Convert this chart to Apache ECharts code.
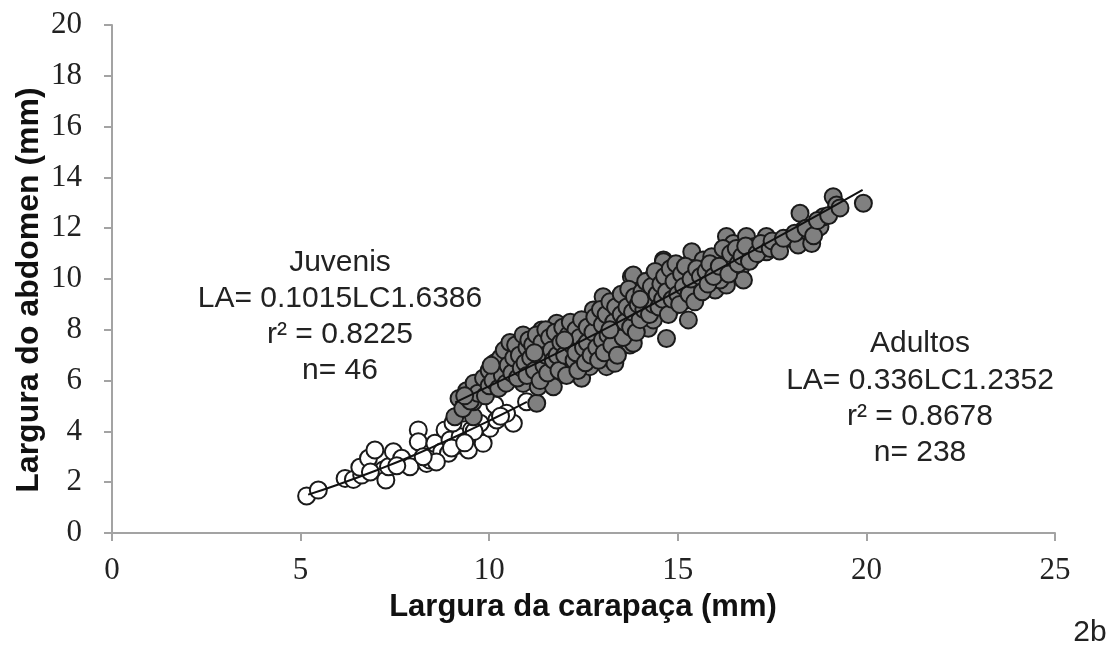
<!DOCTYPE html>
<html>
<head>
<meta charset="utf-8">
<script src="https://cdn.jsdelivr.net/npm/echarts@6/dist/echarts.min.js"></script>
<style>
    html, body { margin: 0; padding: 0; background: #fff; }
    #chart { width: 1114px; height: 648px; }
</style>
</head>
<body>
<div id="chart"></div>
<script>
    // juvenis (open circles)
    var juvenilePoints = [
        [5.16, 1.46], [5.47, 1.69], [6.18, 2.15], [6.40, 2.11], [6.62, 2.28], [6.57, 2.59],
        [6.80, 2.94], [6.97, 3.27], [7.19, 2.48], [7.26, 2.09], [7.33, 2.61], [7.46, 3.20],
        [7.68, 2.94], [7.90, 2.61], [8.12, 4.06], [8.12, 3.59], [8.34, 2.74], [8.43, 2.87],
        [8.52, 3.07], [8.56, 3.53], [8.74, 3.20], [8.92, 3.14], [8.83, 4.06], [8.96, 3.66],
        [9.18, 3.46], [9.23, 3.79], [9.45, 3.27], [9.53, 4.06], [9.84, 3.53], [10.02, 4.12],
        [10.15, 5.04], [10.20, 4.45], [10.64, 4.32], [10.46, 4.71], [10.99, 5.17], [9.76, 4.32],
        [9.04, 4.33], [9.31, 4.72], [8.6, 2.8], [7.55, 2.65], [9.0, 3.35], [9.6, 4.0],
        [10.3, 4.6], [8.25, 3.0], [9.35, 3.55], [6.85, 2.4]
    ]

    // adultos (grey circles)
    var adultPoints = [
        [9.09, 4.58], [9.58, 4.58], [9.58, 5.17], [9.80, 5.76], [10.20, 6.29], [10.46, 6.55],
        [10.59, 7.14], [10.90, 5.89], [10.95, 7.60], [11.26, 5.11], [11.30, 5.76], [11.39, 7.99],
        [11.35, 6.81], [11.79, 8.26], [11.70, 5.76], [11.96, 7.73], [12.01, 6.55], [12.14, 7.20],
        [12.41, 6.94], [12.45, 6.09], [12.67, 6.55], [12.76, 8.78], [13.02, 9.30], [12.94, 8.12],
        [13.11, 6.55], [13.33, 6.68], [13.38, 7.47], [13.73, 7.40], [13.77, 7.86], [13.64, 9.17],
        [13.77, 10.09], [14.17, 8.52], [14.22, 8.06], [14.09, 9.89], [14.53, 10.22], [14.70, 7.66],
        [14.79, 8.78], [14.62, 10.75], [14.88, 9.57], [15.28, 8.39], [15.41, 9.83], [15.32, 10.62],
        [15.50, 9.96], [15.99, 9.57], [16.21, 9.96], [16.12, 10.81], [16.03, 10.29],
        [13.82, 10.16], [14.62, 10.68], [13.82, 7.47], [15.37, 11.07], [15.54, 9.76], [15.23, 9.17],
        [16.29, 11.67], [16.29, 9.76], [16.47, 11.40], [16.65, 10.35], [16.82, 11.67], [17.00, 11.27],
        [17.05, 10.94], [17.35, 11.67], [17.35, 11.07], [17.62, 11.27], [17.93, 11.60], [18.24, 12.59],
        [18.19, 11.34], [18.33, 11.93], [18.55, 11.40], [18.77, 12.06], [18.86, 12.45], [19.12, 13.24],
        [19.21, 12.91], [19.92, 12.98], [15.99, 10.42], [15.67, 10.75], [15.90, 10.88], [16.12, 9.96],
        [16.52, 10.75], [16.74, 9.96], [14.35, 10.09], [14.53, 9.57], [14.17, 9.17], [13.99, 8.65],
        [14.35, 8.39], [15.06, 9.96],
        [9.2, 5.3], [9.3, 4.9], [9.4, 5.6], [9.5, 5.2], [9.6, 5.9], [9.7, 5.5], [9.85, 6.1], [9.9, 5.4],
        [10.0, 6.4], [10.0, 5.8], [10.1, 6.0], [10.15, 6.7], [10.25, 5.7], [10.3, 6.9], [10.35, 6.2],
        [10.4, 7.2], [10.45, 5.9], [10.5, 6.6], [10.55, 7.5], [10.6, 6.3], [10.65, 6.9], [10.7, 7.4],
        [10.75, 6.1], [10.8, 7.0], [10.85, 6.5], [10.9, 7.8], [10.95, 6.7], [11.0, 7.3], [11.0, 6.2],
        [11.05, 7.6], [11.1, 6.9], [11.15, 7.4], [11.2, 6.4], [11.25, 7.8], [11.3, 7.1], [11.35, 6.0],
        [11.4, 7.5], [11.45, 6.6], [11.5, 8.0], [11.5, 7.0], [11.55, 6.3], [11.6, 7.7], [11.65, 7.2],
        [11.7, 6.8], [11.75, 7.9], [11.8, 7.0], [11.85, 6.4], [11.9, 7.5], [11.95, 8.1], [12.0, 7.0],
        [12.05, 6.2], [12.1, 7.8], [12.15, 8.3], [12.2, 7.4], [12.25, 6.8], [12.3, 8.0], [12.3, 7.1],
        [12.35, 6.4], [12.4, 7.7], [12.45, 8.4], [12.5, 7.3], [12.55, 6.7], [12.6, 8.1], [12.6, 7.5],
        [12.7, 7.0], [12.75, 7.9], [12.8, 8.5], [12.85, 7.3], [12.9, 6.8], [12.95, 8.8], [13.0, 7.6],
        [13.0, 8.2], [13.05, 7.1], [13.1, 8.6], [13.15, 7.8], [13.2, 9.1], [13.25, 7.4], [13.3, 8.3],
        [13.35, 8.9], [13.4, 7.0], [13.45, 8.0], [13.5, 8.6], [13.5, 9.4], [13.55, 7.7], [13.6, 8.3],
        [13.65, 8.9], [13.7, 9.6], [13.75, 8.1], [13.8, 8.7], [13.85, 9.3], [13.9, 7.9], [13.95, 9.0],
        [14.0, 8.4], [14.05, 9.5], [14.1, 8.8], [14.15, 9.9], [14.2, 9.2], [14.25, 8.6], [14.3, 9.7],
        [14.35, 9.0], [14.4, 10.3], [14.45, 9.4], [14.5, 8.9], [14.55, 9.8], [14.6, 9.2], [14.65, 10.1],
        [14.7, 9.5], [14.75, 8.6], [14.8, 10.4], [14.85, 9.2], [14.9, 9.9], [14.95, 10.6], [15.0, 9.4],
        [15.05, 9.0], [15.1, 10.2], [15.15, 9.7], [15.2, 10.5], [15.3, 9.4], [15.35, 10.0], [15.45, 9.1],
        [15.5, 10.4], [15.6, 10.1], [15.65, 9.5], [15.75, 10.3], [15.8, 9.8], [15.85, 10.6], [15.95, 10.1],
        [16.1, 10.5], [16.2, 11.2], [16.35, 10.2], [16.4, 11.0], [16.55, 11.2], [16.6, 10.6], [16.7, 10.9],
        [16.8, 11.3], [16.9, 10.7], [17.1, 11.0], [17.2, 11.4], [17.45, 11.2], [17.5, 11.5], [17.7, 11.1],
        [17.8, 11.6], [18.1, 11.8], [18.4, 12.0], [18.6, 11.7], [18.7, 12.3], [19.0, 12.5], [19.3, 12.8],
        [9.35, 5.4], [10.05, 6.6], [11.2, 7.1], [12.0, 7.6], [13.2, 8.0], [14.0, 9.2]
    ]

    // linhas de tendencia
    var juvenileFit = [[5.2, 1.51], [6, 1.91], [7, 2.46], [8, 3.06], [9, 3.72], [10, 4.42], [11, 5.16]]
    var adultFit = [[9.1, 5.14], [10, 5.78], [12, 7.23], [14, 8.75], [16, 10.32], [18, 11.93], [19.9, 13.51]]

    var juvenileText = ['Juvenis', 'LA= 0.1015LC1.6386', 'r² = 0.8225', 'n= 46']
    var adultText = ['Adultos', 'LA= 0.336LC1.2352', 'r² = 0.8678', 'n= 238']

    var axisColor = '#a3a3a3'
    var textColor = '#222'

    function textBlock(lines, cx, ys) {
        return lines.map(function (t, i) {
            return {
                type: 'text',
                x: cx,
                y: ys[i],
                silent: true,
                style: {
                    text: t,
                    fill: textColor,
                    font: '30px "Liberation Sans", Arial, sans-serif',
                    textAlign: 'center',
                    textVerticalAlign: 'middle',
                    verticalAlign: 'middle'
                }
            }
        })
    }

    var chart = echarts.init(document.getElementById('chart'))
    var option = {
        animation: false,
        backgroundColor: '#fff',
        grid: { left: 112, right: 59, top: 25, bottom: 115, containLabel: false },
        xAxis: {
            type: 'value',
            min: 0,
            max: 25,
            interval: 5,
            axisLine: { show: true, onZero: false, lineStyle: { color: axisColor, width: 2 } },
            axisTick: { show: true, length: 8, lineStyle: { color: axisColor, width: 2 } },
            axisLabel: { color: textColor, fontFamily: '"Liberation Serif", serif', fontSize: 31, margin: 22 },
            splitLine: { show: false }
        },
        yAxis: {
            type: 'value',
            min: 0,
            max: 20,
            interval: 2,
            axisLine: { show: true, onZero: false, lineStyle: { color: axisColor, width: 2 } },
            axisTick: { show: true, length: 8, lineStyle: { color: axisColor, width: 2 } },
            axisLabel: { color: textColor, fontFamily: '"Liberation Serif", serif', fontSize: 31, margin: 30 },
            splitLine: { show: false }
        },
        graphic: [].concat(
            textBlock(juvenileText, 340, [263, 299, 335, 371]),
            textBlock(adultText, 920, [344, 381, 417, 453]),
            [
                {
                    type: 'text', x: 583, y: 607, silent: true,
                    style: {
                        text: 'Largura da carapaça (mm)', fill: '#111',
                        font: 'bold 31px "Liberation Sans", Arial, sans-serif',
                        textAlign: 'center', textVerticalAlign: 'middle', verticalAlign: 'middle'
                    }
                },
                {
                    type: 'text', x: 29, y: 290, rotation: Math.PI / 2, silent: true,
                    style: {
                        text: 'Largura do abdomen (mm)', fill: '#111',
                        font: 'bold 32px "Liberation Sans", Arial, sans-serif',
                        textAlign: 'center', textVerticalAlign: 'middle', verticalAlign: 'middle'
                    }
                },
                {
                    type: 'text', x: 1090, y: 633, silent: true,
                    style: {
                        text: '2b', fill: textColor,
                        font: '30px "Liberation Sans", Arial, sans-serif',
                        textAlign: 'center', textVerticalAlign: 'middle', verticalAlign: 'middle'
                    }
                }
            ]
        ),
        series: [
            {
                name: 'Juvenis',
                type: 'scatter',
                data: juvenilePoints,
                symbol: 'circle',
                symbolSize: 17,
                itemStyle: { color: '#fff', borderColor: '#1a1a1a', borderWidth: 2, opacity: 1 },
                z: 2
            },
            {
                name: 'Adultos',
                type: 'scatter',
                data: adultPoints,
                symbol: 'circle',
                symbolSize: 17,
                itemStyle: { color: '#808080', borderColor: '#1a1a1a', borderWidth: 2, opacity: 1 },
                z: 3
            },
            {
                name: 'Tendencia juvenis',
                type: 'line',
                data: juvenileFit,
                showSymbol: false,
                smooth: true,
                lineStyle: { color: '#111', width: 2 },
                z: 4
            },
            {
                name: 'Tendencia adultos',
                type: 'line',
                data: adultFit,
                showSymbol: false,
                smooth: true,
                lineStyle: { color: '#111', width: 2 },
                z: 4
            }
        ]
    }
    chart.setOption(option)
</script>
</body>
</html>
